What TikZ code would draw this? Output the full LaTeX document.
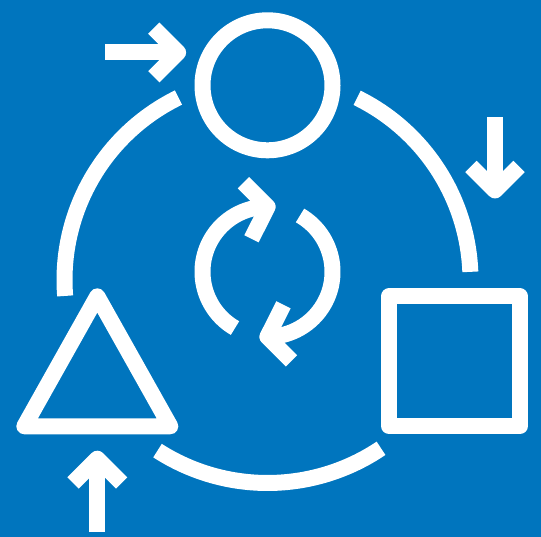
\documentclass[tikz,border=0pt]{standalone}
\definecolor{iconblue}{HTML}{0075BE}
\tikzset{
  glyph/.style={draw=white,line width=16pt,line cap=butt,line join=round},
  bigarc/.style={glyph,radius=203pt},
  smallarc/.style={glyph,radius=65pt}
}
\begin{document}
\begin{tikzpicture}[x=1pt,y=1pt]
\useasboundingbox (0,0) rectangle (541,537);
\fill[iconblue] (0,0) rectangle (541,537);
\coordinate (ring) at (267.5,257);
\coordinate (cycle) at (267.5,265.2);
% shapes
\draw[glyph] (267.5,451.7) circle[radius=65pt];
\draw[glyph] (389.3,240.7) rectangle (519.7,110.7);
\draw[glyph] (97.3,240.7) -- (24.3,110.7) -- (170.3,110.7) -- cycle;
% outer ring
\draw[bigarc] ([shift={(ring)}]116:203pt) arc[start angle=116,end angle=184.5];
\draw[bigarc] ([shift={(ring)}]63.8:203pt) arc[start angle=63.8,end angle=2.3];
\draw[bigarc] ([shift={(ring)}]237.2:203pt) arc[start angle=237.2,end angle=304];
% outer arrows
\draw[glyph] (105,484.5) -- (176,484.5);
\draw[glyph] (153.8,508.8) -- (178.1,484.5) -- (153.8,460.2);
\draw[glyph] (495,419.7) -- (495,348);
\draw[glyph] (471,370.5) -- (495,346.5) -- (519,370.5);
\draw[glyph] (97.3,5.3) -- (97.3,76);
\draw[glyph] (73,54) -- (97.3,78.3) -- (121.6,54);
% central cycle
\draw[smallarc] ([shift={(cycle)}]240:65pt) arc[start angle=240,end angle=90];
\draw[glyph] (243.5,354.3) -- (267.6,330.2) -- (251.5,298.2);
\draw[smallarc] ([shift={(cycle)}]60:65pt) arc[start angle=60,end angle=-90];
\draw[glyph] (291.5,176.1) -- (267.4,200.2) -- (283.5,232.2);
\end{tikzpicture}
\end{document}
